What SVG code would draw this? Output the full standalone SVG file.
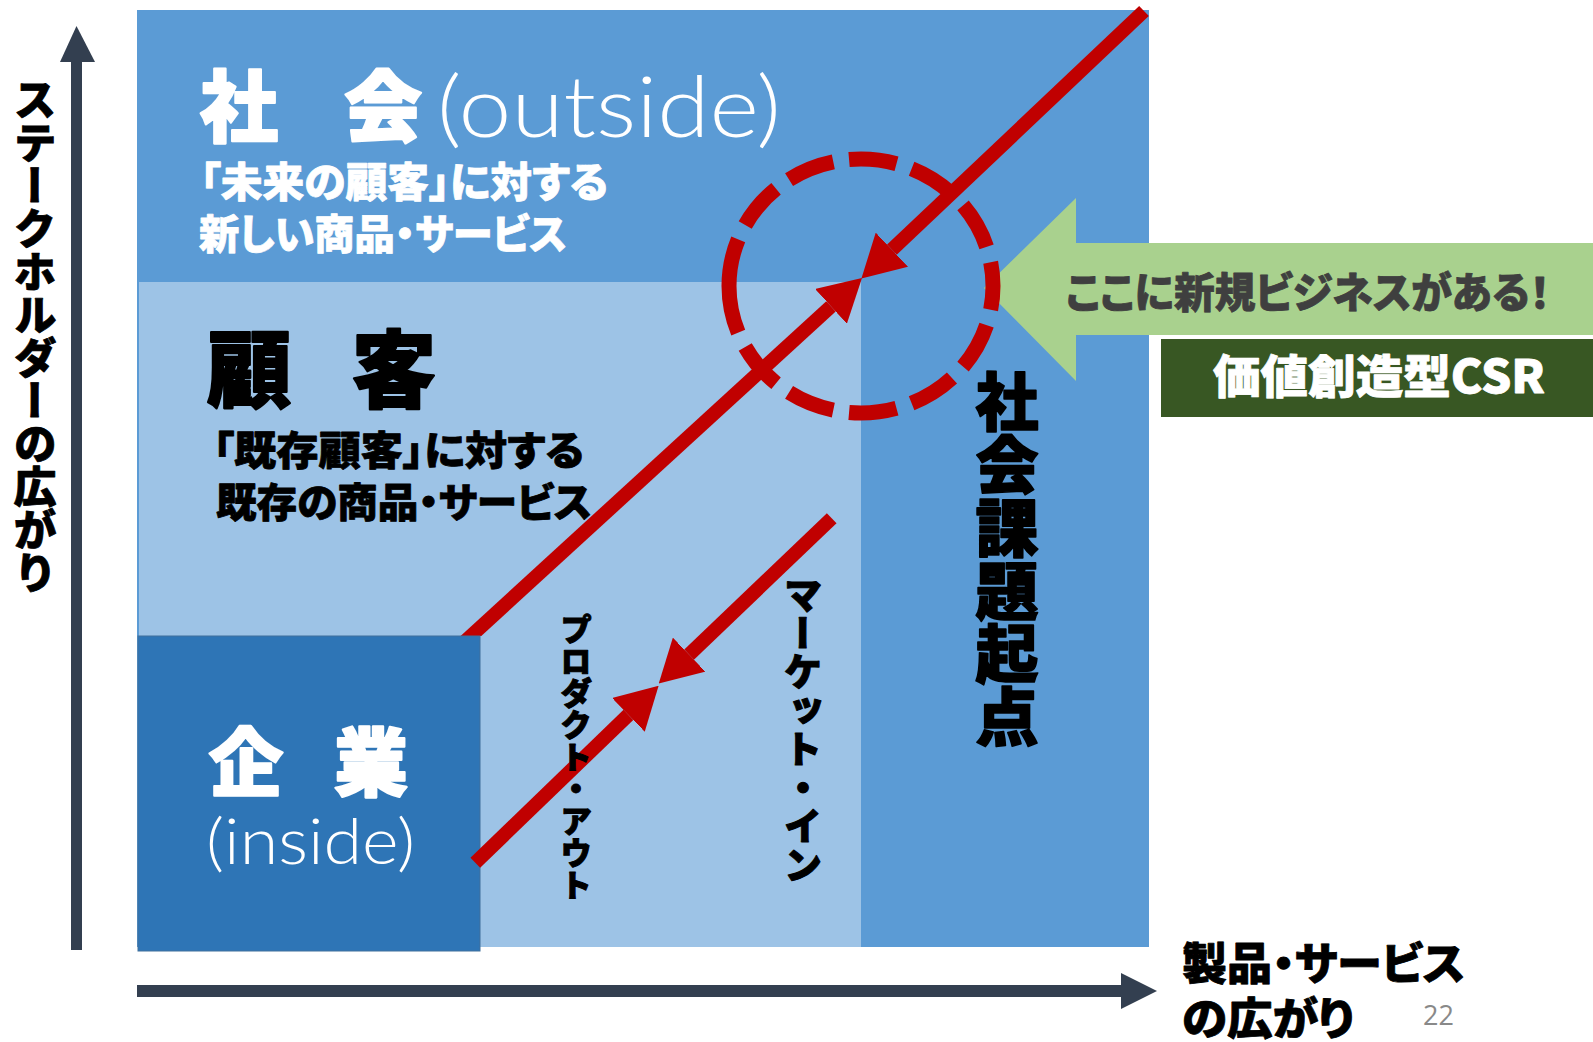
<svg xmlns="http://www.w3.org/2000/svg" width="1593" height="1042" viewBox="0 0 1593 1042">
<style>
.jp{font-family:"Noto Sans CJK JP","Noto Sans CJK SC",sans-serif;font-weight:900;stroke-linejoin:round;}
.h{font-feature-settings:"palt";}
.v{writing-mode:vertical-rl;}
.lt{font-family:Lato,"Open Sans",sans-serif;font-weight:300;fill:#fff;}
.w{fill:#fff;stroke:#fff;}
.k{fill:#000;stroke:#000;}
.g{fill:#3F3F3F;stroke:#3F3F3F;}
.s1{stroke-width:0.8;}
.s2{stroke-width:1.6;}
.s3{stroke-width:2.2;}
.red{stroke:#C00000;stroke-width:14;fill:none;stroke-linecap:butt;}
.ax{fill:#333F50;}
</style>
<defs>
<marker id="ah" viewBox="0 0 42 47" refX="0" refY="23.5" markerWidth="42" markerHeight="47" markerUnits="userSpaceOnUse" orient="auto">
<path d="M0,0 L42,23.5 L0,47 Z" fill="#C00000"/>
</marker>
<clipPath id="aboveCo"><rect x="0" y="0" width="1593" height="636"/></clipPath>
</defs>
<rect width="1593" height="1042" fill="#fff"/>

<g id="axes">
<rect class="ax" x="71" y="60" width="11" height="890"/>
<polygon class="ax" points="76.5,26 95,62 60,62"/>
<rect class="ax" x="137" y="985" width="986" height="12"/>
<polygon class="ax" points="1157,991 1121,973 1121,1009"/>
<text class="jp v k s1" x="35" y="78" font-size="43">ステークホルダーの広がり</text>
<text class="jp h k s1" x="1182" y="980" font-size="44" textLength="283" lengthAdjust="spacingAndGlyphs">製品・サービス</text>
<text class="jp h k s1" x="1182" y="1035" font-size="44" textLength="172" lengthAdjust="spacingAndGlyphs">の広がり</text>
</g>

<g id="society">
<rect x="137" y="10" width="1012" height="937" fill="#5B9BD5"/>
<text class="jp w s3" x="200 278 344" y="136" font-size="78">社　会</text>
<text class="lt" x="437" y="137" font-size="84" textLength="344" lengthAdjust="spacingAndGlyphs">(outside)</text>
<text class="jp h w s1" x="200" y="197" font-size="41" textLength="408" lengthAdjust="spacingAndGlyphs">「未来の顧客」に対する</text>
<text class="jp h w s1" x="199" y="249" font-size="41" textLength="368" lengthAdjust="spacingAndGlyphs">新しい商品・サービス</text>
<text class="jp v k s2" x="1007" y="370" font-size="63">社会課題起点</text>
</g>

<g id="customer">
<rect x="139" y="282" width="722" height="665" fill="#9DC3E6"/>
<text class="jp k s3" x="207 280 352" y="401" font-size="84">顧　客</text>
<text class="jp h k s1" x="213" y="465" font-size="40" textLength="371" lengthAdjust="spacingAndGlyphs">「既存顧客」に対する</text>
<text class="jp h k s1" x="216" y="517" font-size="40" textLength="376" lengthAdjust="spacingAndGlyphs">既存の商品・サービス</text>
</g>

<g id="connectors">
<path class="red" d="M459.9,646.1 L831,306.4" marker-end="url(#ah)" clip-path="url(#aboveCo)"/>
</g>

<g id="company">
<rect x="138" y="636" width="342" height="315" fill="#2E75B6" stroke="#41719C" stroke-width="1"/>
<text class="jp w s3" x="209 272 334" y="790" font-size="74">企　業</text>
<text class="lt" x="206" y="864" font-size="63" textLength="209" lengthAdjust="spacingAndGlyphs">(inside)</text>
</g>

<g id="connectors-2">
<path class="red" d="M1144,11 L891.9,249.7" marker-end="url(#ah)"/>
<path class="red" d="M831.7,518.3 L689.1,654.6" marker-end="url(#ah)"/>
<path class="red" d="M475.3,862.7 L628.4,714.9" marker-end="url(#ah)"/>
<text class="jp v k" x="576" y="613" font-size="32">プロダクト・アウト</text>
<text class="jp v k" x="803" y="575" font-size="38.6">マーケット・イン</text>
</g>

<g id="callout">
<polygon points="984,288 1076,198 1076,243 1593,243 1593,335 1076,335 1076,381" fill="#A9D18E"/>
<text class="jp g s1" x="1066" y="308" font-size="42" textLength="484" lengthAdjust="spacingAndGlyphs" style="font-feature-settings:'palt'">ここに新規ビジネスがある！</text>
</g>

<g id="csr">
<rect x="1161" y="339" width="432" height="78" fill="#385723"/>
<text class="jp h w s1" x="1213" y="393" font-size="46" textLength="332" lengthAdjust="spacingAndGlyphs">価値創造型CSR</text>
</g>

<g id="highlight">
<path d="M729,286 A132,127 0 1 1 993,286 A132,127 0 1 1 729,286" fill="none" stroke="#C00000" stroke-width="15" pathLength="816" stroke-dasharray="48 16"/>
</g>

<text x="1423" y="1025" font-family="'Open Sans',sans-serif" font-size="27" fill="#898989">22</text>
</svg>
